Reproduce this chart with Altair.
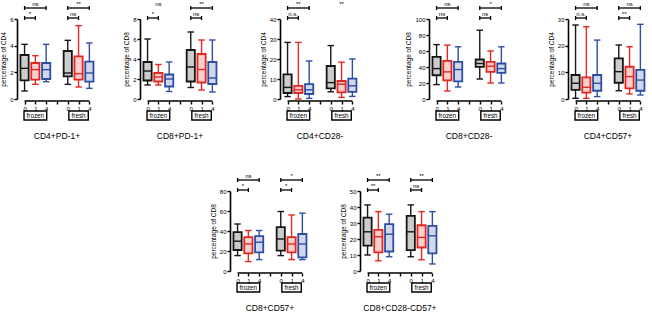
import altair as alt
import pandas as pd

FONT = "Liberation Sans"

# ---------------- categories / labels ----------------
days = ["0", "1", "4"]
conditions = ["frozen", "fresh"]
box_pos = [0, 1, 2, 4, 5, 6]            # frozen 0,1,4 | fresh 0,1,4
box_day = ["0", "1", "4", "0", "1", "4"]
tick_pos = [0, 1, 2, 3, 4, 5, 6]
tick_text = ["0", "1", "4", "", "0", "1", "4"]

panel_names = ["CD4+PD-1+", "CD8+PD-1+", "CD4+CD28-", "CD8+CD28-",
               "CD4+CD57+", "CD8+CD57+", "CD8+CD28-CD57+"]
y_titles = ["percentage of CD4", "percentage of CD8", "percentage of CD4",
            "percentage of CD8", "percentage of CD4", "percentage of CD8",
            "percentage of CD8"]
y_max = [6, 8, 40, 100, 30, 80, 50]
y_step = [2, 2, 10, 20, 10, 20, 10]

# ---------------- box statistics (min, q1, median, q3, max) ----------------
cd4pd1_lo = [0.6, 1.1, 1.3, 1.1, 0.9, 0.8]
cd4pd1_q1 = [1.4, 1.45, 1.5, 1.7, 1.45, 1.3]
cd4pd1_md = [2.3, 2.2, 2.2, 1.95, 1.9, 1.95]
cd4pd1_q3 = [3.3, 2.7, 2.7, 3.6, 3.2, 2.8]
cd4pd1_hi = [4.1, 3.25, 4.1, 4.4, 5.5, 4.2]

cd8pd1_lo = [1.4, 1.4, 0.75, 1.15, 0.9, 0.7]
cd8pd1_q1 = [1.85, 1.75, 1.25, 1.75, 1.65, 1.5]
cd8pd1_md = [2.8, 2.2, 2.0, 3.2, 2.95, 2.1]
cd8pd1_q3 = [3.7, 2.6, 2.45, 4.9, 4.5, 3.7]
cd8pd1_hi = [6.0, 3.45, 3.7, 6.7, 5.9, 5.9]

cd4cd28_lo = [1.2, 0.0, 0.3, 3.6, 0.8, 1.3]
cd4cd28_q1 = [3.0, 3.0, 2.5, 5.3, 3.3, 3.6]
cd4cd28_md = [5.8, 4.6, 4.6, 8.2, 7.4, 6.6]
cd4cd28_q3 = [12.3, 6.6, 7.4, 16.5, 9.0, 10.2]
cd4cd28_hi = [28.3, 28.3, 19.0, 26.7, 18.4, 20.0]

cd8cd28_lo = [18, 10, 15, 25, 20, 20]
cd8cd28_q1 = [29.7, 23.4, 22, 40.2, 33.9, 32.6]
cd8cd28_md = [38, 33.9, 36.8, 44.4, 41, 38]
cd8cd28_q3 = [52.7, 47.7, 46.4, 49.4, 46.4, 44.4]
cd8cd28_hi = [68, 67.4, 65.3, 86, 60, 65.3]

cd4cd57_lo = [0.25, 0.25, 0.9, 3.1, 1.9, 1.5]
cd4cd57_q1 = [3.4, 2.4, 3.1, 6.1, 4.0, 3.1]
cd4cd57_md = [5.9, 4.4, 5.9, 10.25, 8.4, 7.1]
cd4cd57_q3 = [9.0, 8.1, 9.0, 15.25, 12.1, 10.9]
cd4cd57_hi = [27.75, 27.1, 22.1, 20.25, 19.6, 28.0]

cd8cd57_lo = [15.4, 9.4, 11.4, 15.4, 11.4, 11.4]
cd8cd57_q1 = [21.0, 17.7, 18.7, 20.4, 18.7, 13.7]
cd8cd57_md = [29.8, 27.1, 28.8, 32.0, 27.0, 27.0]
cd8cd57_q3 = [38.8, 33.8, 34.8, 43.8, 33.8, 37.0]
cd8cd57_hi = [47.0, 40.5, 40.5, 59.5, 56.0, 57.8]

cd8cd28cd57_lo = [10.0, 6.4, 8.9, 8.9, 7.0, 4.4]
cd8cd28cd57_q1 = [15.8, 11.6, 12.2, 13.1, 14.7, 11.0]
cd8cd28cd57_md = [24.5, 21.4, 23.0, 24.5, 21.0, 22.0]
cd8cd28cd57_q3 = [33.4, 25.7, 29.3, 34.4, 28.6, 28.2]
cd8cd28cd57_hi = [41.3, 37.1, 35.5, 41.3, 37.1, 37.1]

stats = [
    (cd4pd1_lo, cd4pd1_q1, cd4pd1_md, cd4pd1_q3, cd4pd1_hi),
    (cd8pd1_lo, cd8pd1_q1, cd8pd1_md, cd8pd1_q3, cd8pd1_hi),
    (cd4cd28_lo, cd4cd28_q1, cd4cd28_md, cd4cd28_q3, cd4cd28_hi),
    (cd8cd28_lo, cd8cd28_q1, cd8cd28_md, cd8cd28_q3, cd8cd28_hi),
    (cd4cd57_lo, cd4cd57_q1, cd4cd57_md, cd4cd57_q3, cd4cd57_hi),
    (cd8cd57_lo, cd8cd57_q1, cd8cd57_md, cd8cd57_q3, cd8cd57_hi),
    (cd8cd28cd57_lo, cd8cd28cd57_q1, cd8cd28cd57_md, cd8cd28cd57_q3, cd8cd28cd57_hi),
]

# ---------------- significance brackets: (from, to, row, text, drawn) ----------------
cd4pd1_sig = [(0, 2, "top", "ns", 1), (0, 1, "low", "*", 1), (4, 6, "top", "**", 1), (4, 5, "low", "ns", 1)]
cd8pd1_sig = [(0, 2, "top", "ns", 0), (0, 1, "low", "*", 1), (4, 6, "top", "**", 1), (4, 5, "low", "ns", 1)]
cd4cd28_sig = [(0, 2, "top", "**", 1), (0, 1, "low", "n.s.", 1), (4, 6, "top", "**", 0)]
cd8cd28_sig = [(0, 2, "top", "ns", 1), (0, 1, "low", "ns", 1), (4, 6, "top", "*", 1), (4, 5, "low", "ns", 1)]
cd4cd57_sig = [(0, 2, "top", "ns", 1), (0, 1, "low", "n.s.", 1), (4, 6, "top", "ns", 1), (4, 5, "low", "**", 1)]
cd8cd57_sig = [(0, 2, "top", "ns", 1), (0, 1, "low", "*", 1), (4, 6, "top", "*", 1), (4, 5, "low", "*", 1)]
cd8cd28cd57_sig = [(0, 2, "top", "**", 1), (0, 1, "low", "**", 1), (4, 6, "top", "**", 1), (4, 5, "low", "ns", 1)]
sigs = [cd4pd1_sig, cd8pd1_sig, cd4cd28_sig, cd8cd28_sig, cd4cd57_sig, cd8cd57_sig, cd8cd28cd57_sig]

# ---------------- styling ----------------
PX = 10.8          # pixels per x unit
H = 80             # plot height
X0 = -0.7
ROW_Y = {"top": -11, "low": -1}
color_scale = alt.Scale(domain=days, range=["#161616", "#e4281f", "#2d4ea3"])
label_expr = " : ".join(f"datum.value == {p} ? '{t}'" for p, t in zip(tick_pos, tick_text)) + " : ''"


def make_panel(k, width):
    lo, q1, md, q3, hi = stats[k]
    box = pd.DataFrame({"u": box_pos, "day": box_day, "lo": lo, "q1": q1,
                        "md": md, "q3": q3, "hi": hi})
    xs = alt.Scale(domain=[X0, X0 + width / PX], nice=False, zero=False)
    ys = alt.Scale(domain=[0, y_max[k]], nice=False, zero=True)
    xaxis = alt.Axis(values=tick_pos, labelExpr=label_expr, domain=False, grid=False,
                     tickSize=3, tickWidth=1.4, tickColor="black", labelFontSize=6,
                     labelFont=FONT, labelColor="black", labelPadding=1, offset=2,
                     title=None)
    yaxis = alt.Axis(values=list(range(0, y_max[k] + 1, y_step[k])), grid=False,
                     domainWidth=1.6, domainColor="black", tickSize=3, tickWidth=1.4,
                     tickColor="black", labelFontSize=6, labelFont=FONT,
                     labelColor="black", labelPadding=1, title=y_titles[k],
                     titleFontSize=6.5, titleFont=FONT, titleFontWeight="normal",
                     titleColor="black", titlePadding=3)

    def X(f):
        return alt.X(f, type="quantitative", scale=xs, axis=xaxis)

    def Y(f):
        return alt.Y(f, type="quantitative", scale=ys, axis=yaxis)

    col = alt.Color("day:N", scale=color_scale, legend=None)
    base = alt.Chart(box).transform_calculate(
        a="datum.u - 0.3", b="datum.u + 0.3", c="datum.u - 0.38", d="datum.u + 0.38")

    whisk = base.mark_rule(strokeWidth=1.4).encode(x=X("u"), y=Y("lo"), y2="hi", color=col)
    cap_hi = base.mark_rule(strokeWidth=1.4).encode(x=X("a"), x2="b", y=Y("hi"), color=col)
    cap_lo = base.mark_rule(strokeWidth=1.4).encode(x=X("a"), x2="b", y=Y("lo"), color=col)
    boxes = base.mark_rect(fill="white", strokeWidth=1.8).encode(
        x=X("c"), x2="d", y=Y("q1"), y2="q3",
        stroke=alt.Stroke("day:N", scale=color_scale, legend=None))
    shade = base.mark_rect(opacity=0.22).encode(
        x=X("c"), x2="d", y=Y("q1"), y2="q3",
        fill=alt.Fill("day:N", scale=color_scale, legend=None))
    med = base.mark_rule(strokeWidth=1.4).encode(x=X("c"), x2="d", y=Y("md"), color=col)

    # x axis base line
    xline = alt.Chart(pd.DataFrame({"a": [box_pos[0]], "b": [box_pos[-1]]})).mark_rule(
        strokeWidth=1.6, color="black").encode(x=X("a"), x2="b", y=alt.value(H + 2))

    # condition boxes (frozen / fresh)
    cond_df = pd.DataFrame({"cond": conditions,
                            "c": [sum(box_pos[:3]) / 3, sum(box_pos[3:]) / 3]})
    cbase = alt.Chart(cond_df).transform_calculate(
        hw="0.15 * length(datum.cond) + 0.15").transform_calculate(
        x1="datum.c - datum.hw", x2="datum.c + datum.hw")
    crect = cbase.mark_rect(fill="white", stroke="black", strokeWidth=1.4).encode(
        x=X("x1"), x2="x2", y=alt.value(H + 12), y2=alt.value(H + 21))
    ctext = cbase.mark_text(fontSize=6.3, font=FONT, color="black").encode(
        x=X("c"), y=alt.value(H + 16.5), text="cond")

    # title under panel
    title = alt.Chart(pd.DataFrame({"t": [panel_names[k]], "c": [tick_pos[3]]})).mark_text(
        fontSize=8.5, font=FONT, color="black").encode(
        x=X("c"), y=alt.value(H + 37), text="t")

    # significance brackets
    sig = pd.DataFrame(sigs[k], columns=["x1", "x2", "row", "txt", "drawn"])
    layers = []
    for row, yb in ROW_Y.items():
        sb = alt.Chart(sig).transform_filter(f"datum.row == '{row}'")
        sl = sb.transform_filter("datum.drawn == 1")
        layers.append(sl.mark_rule(strokeWidth=1.3, color="black").encode(
            x=X("x1"), x2="x2", y=alt.value(yb)))
        layers.append(sl.transform_fold(["x1", "x2"]).mark_rule(
            strokeWidth=1.3, color="black").encode(
            x=X("value"), y=alt.value(yb - 2), y2=alt.value(yb + 2)))
        layers.append(sb.transform_calculate(m="(datum.x1 + datum.x2) / 2").mark_text(
            fontSize=6, font=FONT, color="black").encode(
            x=X("m"), y=alt.value(yb - 4.5), text="txt"))

    return alt.layer(whisk, cap_hi, cap_lo, boxes, shade, med, xline, crect, ctext,
                     title, *layers).properties(width=width, height=H)


spacer = alt.Chart(pd.DataFrame({"u": [0], "v": [0]})).mark_point(opacity=0).encode(
    x=alt.X("u:Q", axis=None), y=alt.Y("v:Q", axis=None)).properties(width=193, height=H)

row1 = alt.hconcat(*[make_panel(k, w) for k, w in zip(range(5), [103, 120, 129, 119, 80])],
                   spacing=20, bounds="flush")
row2 = alt.hconcat(spacer, make_panel(5, 110), make_panel(6, 80), spacing=20, bounds="flush")

# with flush bounds a nested row counts as zero height, so the spacing spans row 1's plot too
chart = alt.vconcat(row1, row2, spacing=H + 92, bounds="flush").properties(
    padding={"left": 0, "top": 0, "right": 0, "bottom": 0},
    background="white").configure_view(strokeWidth=0)

chart.save("out.html", embed_options={"renderer": "svg", "actions": False})
